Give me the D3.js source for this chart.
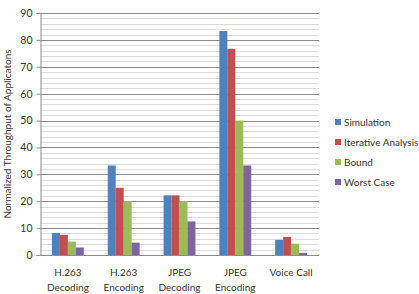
<!DOCTYPE html>
<html>
<head>
<meta charset="UTF-8">
<script src="https://d3js.org/d3.v7.min.js"></script>
<style>
  body { margin: 0; background: #fff; }
  text { font-family: Lato, "DejaVu Sans", sans-serif; fill: #333; }
</style>
</head>
<body>
<div id="chart"></div>
<script>
// data
const categories = [["H.263", "Decoding"], ["H.263", "Encoding"], ["JPEG", "Decoding"], ["JPEG", "Encoding"], ["Voice Call"]];
const seriesNames = ["Simulation", "Iterative Analysis", "Bound", "Worst Case"];
const simulation = [8.2, 33.3, 22.2, 83.3, 5.6];
const iterative = [7.5, 25, 22.2, 76.7, 6.7];
const bound = [5, 20, 20, 50, 4.2];
const worstCase = [2.8, 4.6, 12.5, 33.3, 0.8];
const yTicks = [0, 10, 20, 30, 40, 50, 60, 70, 80, 90];
const colors = ["#4F81BD", "#C0504D", "#9BBB59", "#8064A2"];

const width = 419, height = 294;
const margin = { left: 40, right: 100, top: 13, bottom: 39 };

const svg = d3.select("#chart").append("svg")
  .attr("width", width).attr("height", height);

const x = d3.scaleBand()
  .domain(d3.range(categories.length))
  .range([margin.left, width - margin.right]);

const xs = d3.scaleBand()
  .domain(d3.range(seriesNames.length))
  .range([0, x.bandwidth()])
  .paddingOuter(1.5);

const y = d3.scaleLinear().domain([0, 90]).range([height - margin.bottom, margin.top]);

// minor gridlines every 2
svg.append("g").selectAll("line")
  .data(d3.range(2, 91, 2).filter(v => v % 10 !== 0))
  .join("line")
  .attr("x1", margin.left).attr("x2", width - margin.right)
  .attr("y1", d => Math.round(y(d)) + 0.5).attr("y2", d => Math.round(y(d)) + 0.5)
  .attr("stroke", "#dadada");

// major gridlines
svg.append("g").selectAll("line")
  .data(yTicks.slice(1))
  .join("line")
  .attr("x1", margin.left).attr("x2", width - margin.right)
  .attr("y1", d => Math.round(y(d)) + 0.5).attr("y2", d => Math.round(y(d)) + 0.5)
  .attr("stroke", "#8c8c8c");

// bars
const allSeries = [simulation, iterative, bound, worstCase];
allSeries.forEach((vals, si) => {
  svg.append("g").selectAll("rect")
    .data(vals)
    .join("rect")
    .attr("x", (d, i) => x(i) + xs(si))
    .attr("width", xs.bandwidth())
    .attr("y", d => y(d))
    .attr("height", d => y(0) - y(d))
    .attr("fill", colors[si]);
});

// y axis
const yAxis = svg.append("g")
  .attr("transform", `translate(${margin.left + 0.5},0)`)
  .call(d3.axisLeft(y).tickValues(yTicks).tickSize(4).tickPadding(4));
yAxis.select(".domain").attr("stroke", "#8c8c8c");
yAxis.selectAll(".tick line").attr("stroke", "#8c8c8c");
yAxis.selectAll("text").attr("font-size", 10.5).style("fill", "#333")
  .style("font-family", "Lato, sans-serif");

// x axis baseline
svg.append("line")
  .attr("x1", margin.left).attr("x2", width - margin.right)
  .attr("y1", y(0) + 0.5).attr("y2", y(0) + 0.5)
  .attr("stroke", "#8c8c8c");

// x labels
const xl = svg.append("g").selectAll("text")
  .data(categories)
  .join("text")
  .attr("text-anchor", "middle")
  .attr("font-size", 10)
  .attr("x", (d, i) => x(i) + x.bandwidth() / 2)
  .attr("y", 276);
xl.selectAll("tspan")
  .data(d => d)
  .join("tspan")
  .attr("x", function () { return d3.select(this.parentNode).attr("x"); })
  .attr("dy", (d, i) => i === 0 ? 0 : 15)
  .text(d => d);

// y title
svg.append("text")
  .attr("transform", `translate(11,${(margin.top + height - margin.bottom) / 2}) rotate(-90)`)
  .attr("text-anchor", "middle")
  .attr("font-size", 10)
  .text("Normalized Throughput of Applicatons");

// legend
const legend = svg.append("g").selectAll("g")
  .data(seriesNames)
  .join("g")
  .attr("transform", (d, i) => `translate(335,${123 + i * 20})`);
legend.append("rect")
  .attr("x", 0).attr("y", -4).attr("width", 6).attr("height", 6)
  .attr("fill", (d, i) => colors[i]);
legend.append("text")
  .attr("x", 9).attr("y", 3)
  .attr("font-size", 10)
  .text(d => d);
</script>
</body>
</html>
